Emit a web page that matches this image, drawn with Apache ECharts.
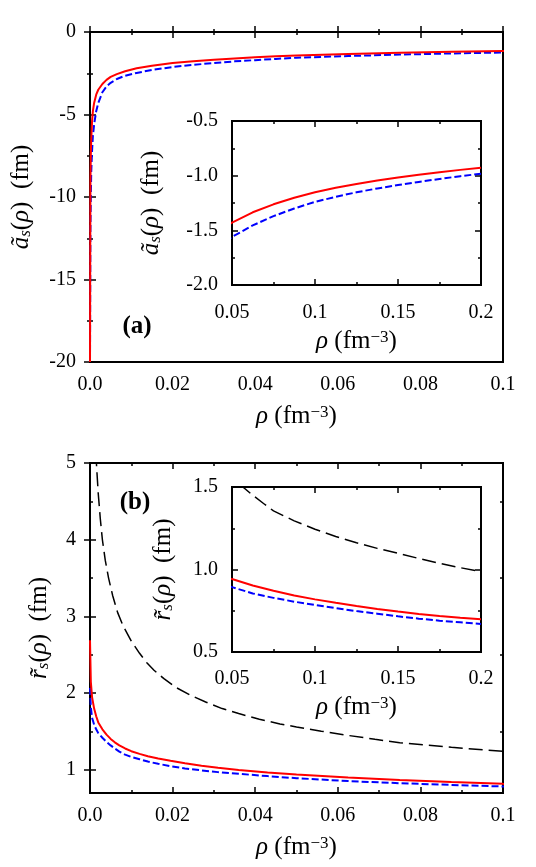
<!DOCTYPE html>
<html>
<head>
<meta charset="utf-8">
<script src="https://cdn.jsdelivr.net/npm/echarts@6/dist/echarts.min.js"></script>
<style>
html, body { margin: 0; padding: 0; background: #fff; }
#chart { width: 536px; height: 867px; }
</style>
</head>
<body>
<div id="chart"></div>
<script>
// (a) scattering length a_s(rho), fm
const rhoAs = [0, 0.0001, 0.0002, 0.0003, 0.0005, 0.0007, 0.001, 0.0015, 0.002, 0.003, 0.004, 0.005, 0.0065, 0.0085, 0.0113, 0.015, 0.02, 0.025, 0.03, 0.035, 0.04, 0.045, 0.05, 0.0625, 0.075, 0.0875, 0.1, 0.1125, 0.125, 0.1375, 0.15, 0.1625, 0.175, 0.1875, 0.2]
const asRed = [-20, -9, -7.4, -6.5, -5.4, -4.8, -4.3, -3.8, -3.5, -3.15, -2.9, -2.72, -2.55, -2.38, -2.2, -2.04, -1.88, -1.77, -1.68, -1.6, -1.53, -1.475, -1.43, -1.335, -1.262, -1.202, -1.152, -1.111, -1.076, -1.045, -1.016, -0.991, -0.968, -0.947, -0.928]
const asBlue = [-20, -12, -10, -8.5, -7.2, -6.3, -5.6, -4.8, -4.3, -3.65, -3.3, -3.08, -2.85, -2.65, -2.48, -2.3, -2.12, -1.99, -1.88, -1.78, -1.705, -1.63, -1.56, -1.455, -1.37, -1.3, -1.24, -1.193, -1.152, -1.117, -1.086, -1.057, -1.03, -1.005, -0.982]

// (b) effective range r_s(rho), fm
const rhoRs = [0, 0.0002, 0.0005, 0.001, 0.0015, 0.002, 0.003, 0.004, 0.005, 0.006, 0.0071, 0.0085, 0.01, 0.012, 0.014, 0.0165, 0.0195, 0.023, 0.027, 0.031, 0.036, 0.043, 0.05, 0.0625, 0.075, 0.0875, 0.1, 0.1125, 0.125, 0.1375, 0.15, 0.1625, 0.175, 0.1875, 0.2]
const rsRed = [2.69, 2.15, 1.95, 1.8, 1.7, 1.62, 1.53, 1.46, 1.405, 1.36, 1.32, 1.28, 1.245, 1.21, 1.18, 1.15, 1.12, 1.087, 1.055, 1.029, 1.0, 0.968, 0.942, 0.903, 0.871, 0.842, 0.819, 0.798, 0.779, 0.761, 0.745, 0.731, 0.718, 0.707, 0.698]
const rsBlue = [2.07, 1.82, 1.68, 1.59, 1.53, 1.48, 1.42, 1.365, 1.32, 1.28, 1.24, 1.2, 1.17, 1.14, 1.11, 1.08, 1.05, 1.02, 0.995, 0.972, 0.95, 0.92, 0.893, 0.855, 0.828, 0.805, 0.785, 0.766, 0.748, 0.732, 0.716, 0.702, 0.69, 0.68, 0.67]
const rhoBlack = [0.0012, 0.0016, 0.002, 0.0025, 0.003, 0.0037, 0.0045, 0.0055, 0.0067, 0.008, 0.01, 0.012, 0.0137, 0.0155, 0.0179, 0.021, 0.0245, 0.028, 0.032, 0.036, 0.041, 0.046, 0.05, 0.056, 0.0625, 0.069, 0.075, 0.0875, 0.1, 0.1125, 0.125, 0.1375, 0.15, 0.1625, 0.175, 0.1875, 0.2]
const rsBlack = [5.4, 4.95, 4.6, 4.27, 4.0, 3.73, 3.5, 3.27, 3.05, 2.88, 2.68, 2.52, 2.4, 2.3, 2.19, 2.07, 1.97, 1.885, 1.8, 1.735, 1.66, 1.6, 1.56, 1.505, 1.45, 1.4, 1.355, 1.295, 1.244, 1.2, 1.162, 1.128, 1.098, 1.067, 1.037, 1.011, 0.987]

// tick values for the (b) main y axis (its range starts at 0.7)
const rsMajorTicks = [1, 2, 3, 4, 5]
const rsMinorTicks = [1.5, 2.5, 3.5, 4.5]

const FONT = '"Liberation Serif", "DejaVu Serif", serif'
const BLACK = '#000'

const nameRich = {
  n: { fontFamily: FONT, fontSize: 25, color: BLACK },
  i: { fontFamily: FONT, fontSize: 25, fontStyle: 'italic', color: BLACK },
  sub: { fontFamily: FONT, fontSize: 17, fontStyle: 'italic', color: BLACK, verticalAlign: 'bottom' },
  sup: { fontFamily: FONT, fontSize: 17, color: BLACK, verticalAlign: 'top' }
}
const nameStyle = { fontFamily: FONT, fontSize: 25, color: BLACK, rich: nameRich }

const rhoName = '{i|ρ} {n|(fm}{sup|−3}{n|)}'
const asName = '{i|ã}{sub|s}{n|(}{i|ρ}{n|)  (fm)}'
const rsName = '{i|r̃}{sub|s}{n|(}{i|ρ}{n|)  (fm)}'

const tickStyle = { color: BLACK, width: 1.5 }
const labelStyle = { fontFamily: FONT, fontSize: 20, color: BLACK }

function pairs(xs, ys) {
  return xs.map((x, i) => [x, ys[i]])
}

function xAxes(gridIndex, min, max, interval, fmt, margin, nameGap) {
  const base = {
    type: 'value', gridIndex, min, max, interval,
    axisLine: { show: false },
    splitLine: { show: false },
    axisTick: { inside: true, length: 6, lineStyle: tickStyle },
    minorTick: { show: true, splitNumber: 2, length: 3, lineStyle: tickStyle }
  }
  return [
    {
      ...base, position: 'bottom',
      axisLabel: { ...labelStyle, margin, formatter: fmt, showMinLabel: true, showMaxLabel: true },
      name: rhoName, nameLocation: 'middle', nameGap, nameTextStyle: nameStyle
    },
    { ...base, position: 'top', axisLabel: { show: false } }
  ]
}

function yAxes(gridIndex, min, max, interval, fmt, name, nameGap) {
  const base = {
    type: 'value', gridIndex, min, max, interval,
    axisLine: { show: false },
    splitLine: { show: false },
    axisTick: { inside: true, length: 6, lineStyle: tickStyle },
    minorTick: { show: true, splitNumber: 2, length: 3, lineStyle: tickStyle }
  }
  return [
    {
      ...base, position: 'left',
      axisLabel: { ...labelStyle, margin: 14, formatter: fmt, showMinLabel: true, showMaxLabel: true },
      name, nameLocation: 'middle', nameGap, nameRotate: 90, nameTextStyle: nameStyle
    },
    { ...base, position: 'right', axisLabel: { show: false } }
  ]
}

// (b) main y axis: ticks given by value lists
function rsAxis(position, ticks, len, withLabel) {
  const ax = {
    type: 'value', gridIndex: 2, min: 0.7, max: 5, position,
    axisLine: { show: false },
    splitLine: { show: false },
    axisTick: { inside: true, length: len, lineStyle: tickStyle, customValues: ticks },
    axisLabel: { show: false }
  }
  if (withLabel) {
    ax.axisLabel = { ...labelStyle, margin: 14, customValues: ticks }
    ax.name = rsName
    ax.nameLocation = 'middle'
    ax.nameGap = 38
    ax.nameRotate = 90
    ax.nameTextStyle = nameStyle
  }
  return ax
}

function line(xi, yi, data, color, type, width) {
  return {
    type: 'line', xAxisIndex: xi, yAxisIndex: yi, data,
    showSymbol: false, symbol: 'none', clip: true, smooth: false,
    lineStyle: { color, width, type },
    silent: true
  }
}

const fmtMain = v => (v === 0 ? '0.0' : String(+v.toFixed(2)))
const fmtInsetX = v => String(+v.toFixed(2))
const fmtOne = v => v.toFixed(1)
const fmtInt = v => String(v)

const frame = { show: true, borderColor: BLACK, borderWidth: 2, backgroundColor: 'transparent' }

const option = {
  animation: false,
  backgroundColor: '#fff',
  textStyle: { fontFamily: FONT },
  grid: [
    { ...frame, left: 90, top: 32, width: 413, height: 330 },
    { ...frame, left: 232, top: 121, width: 249, height: 164 },
    { ...frame, left: 90, top: 463, width: 413, height: 330 },
    { ...frame, left: 232, top: 487, width: 249, height: 165 }
  ],
  xAxis: [
    ...xAxes(0, 0, 0.1, 0.02, fmtMain, 13, 42),
    ...xAxes(1, 0.05, 0.2, 0.05, fmtInsetX, 18, 44),
    ...xAxes(2, 0, 0.1, 0.02, fmtMain, 13, 42),
    ...xAxes(3, 0.05, 0.2, 0.05, fmtInsetX, 17, 43)
  ],
  yAxis: [
    ...yAxes(0, -20, 0, 5, fmtInt, asName, 56),
    ...yAxes(1, -2, -0.5, 0.5, fmtOne, asName, 68),
    rsAxis('left', rsMajorTicks, 6, true),
    rsAxis('right', rsMajorTicks, 6, false),
    ...yAxes(3, 0.5, 1.5, 0.5, fmtOne, rsName, 56),
    rsAxis('left', rsMinorTicks, 3, false),
    rsAxis('right', rsMinorTicks, 3, false)
  ],
  graphic: [
    { type: 'text', x: 137, y: 327, style: { text: '(a)', fontFamily: FONT, fontSize: 25, fontWeight: 'bold', fill: BLACK, align: 'center', verticalAlign: 'middle' } },
    { type: 'text', x: 135, y: 503, style: { text: '(b)', fontFamily: FONT, fontSize: 25, fontWeight: 'bold', fill: BLACK, align: 'center', verticalAlign: 'middle' } }
  ],
  series: [
    line(0, 0, pairs(rhoAs, asBlue), '#0000ff', [7, 3], 2),
    line(0, 0, pairs(rhoAs, asRed), '#ff0000', 'solid', 2),
    line(2, 2, pairs(rhoAs, asBlue), '#0000ff', [7, 3], 2),
    line(2, 2, pairs(rhoAs, asRed), '#ff0000', 'solid', 2),
    line(4, 4, pairs(rhoBlack, rsBlack), '#000000', [14, 6], 1.5),
    line(4, 4, pairs(rhoRs, rsBlue), '#0000ff', [7, 3], 2),
    line(4, 4, pairs(rhoRs, rsRed), '#ff0000', 'solid', 2),
    line(6, 6, pairs(rhoBlack, rsBlack), '#000000', [14, 6], 1.5),
    line(6, 6, pairs(rhoRs, rsBlue), '#0000ff', [7, 3], 2),
    line(6, 6, pairs(rhoRs, rsRed), '#ff0000', 'solid', 2)
  ]
}

const chart = echarts.init(document.getElementById('chart'), null, { renderer: 'canvas' })
chart.setOption(option)
</script>
</body>
</html>
